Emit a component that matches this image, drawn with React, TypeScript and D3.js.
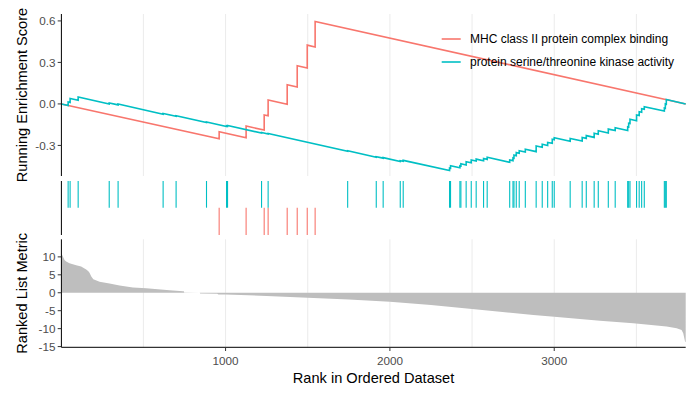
import React from "react";
import * as d3 from "d3";

const N = 3800;
const setNames = ["MHC class II protein complex binding", "protein serine/threonine kinase activity"];
const setColors = ["#F8766D", "#00BFC4"];

// [rank, running score before hit, running score after hit]
const mhcHits: [number, number, number][] = [
  [961, -0.252, -0.201],
  [1125, -0.245, -0.16],
  [1235, -0.189, -0.08],
  [1259, -0.086, 0.028],
  [1375, -0.003, 0.139],
  [1436, 0.123, 0.276],
  [1497, 0.26, 0.425],
  [1545, 0.412, 0.596],
];

const kinaseHits: [number, number, number][] = [
  [42, -0.011, 0.014],
  [54, 0.011, 0.04],
  [103, 0.027, 0.05],
  [292, 0.0, 0.007],
  [346, -0.007, -0.001],
  [620, -0.074, -0.069],
  [699, -0.09, -0.085],
  [884, -0.134, -0.13],
  [1006, -0.163, -0.159],
  [1012, -0.161, -0.156],
  [1219, -0.211, -0.207],
  [1259, -0.218, -0.214],
  [1743, -0.343, -0.339],
  [1917, -0.385, -0.381],
  [1959, -0.392, -0.388],
  [2063, -0.416, -0.41],
  [2081, -0.415, -0.408],
  [2363, -0.481, -0.463],
  [2369, -0.465, -0.447],
  [2426, -0.462, -0.447],
  [2432, -0.449, -0.432],
  [2464, -0.441, -0.418],
  [2495, -0.426, -0.405],
  [2525, -0.413, -0.399],
  [2570, -0.411, -0.395],
  [2592, -0.401, -0.386],
  [2729, -0.422, -0.405],
  [2749, -0.41, -0.39],
  [2755, -0.392, -0.37],
  [2769, -0.374, -0.352],
  [2787, -0.357, -0.338],
  [2824, -0.348, -0.328],
  [2890, -0.345, -0.304],
  [2927, -0.314, -0.292],
  [2960, -0.301, -0.278],
  [2988, -0.285, -0.256],
  [3000, -0.259, -0.244],
  [3097, -0.27, -0.249],
  [3170, -0.268, -0.242],
  [3195, -0.249, -0.229],
  [3243, -0.242, -0.212],
  [3268, -0.219, -0.194],
  [3329, -0.21, -0.182],
  [3371, -0.193, -0.172],
  [3447, -0.192, -0.165],
  [3453, -0.167, -0.14],
  [3461, -0.142, -0.111],
  [3501, -0.122, -0.08],
  [3517, -0.084, -0.056],
  [3532, -0.06, -0.035],
  [3548, -0.039, -0.02],
  [3670, -0.052, -0.03],
  [3676, -0.032, 0.0],
  [3682, -0.002, 0.032],
];

const metricRanks = [1, 5, 10, 20, 30, 50, 91, 121, 152, 165, 172, 183, 195, 203, 233, 294, 355, 436, 517, 588, 659, 741, 746, 748, 843, 845, 950, 956, 1000, 1250, 1500, 1750, 2000, 2250, 2500, 2670, 2873, 3000, 3278, 3481, 3684, 3745, 3775, 3785, 3796, 3800];
const metricValues = [11.0, 10.6, 10.1, 9.1, 8.7, 8.2, 7.7, 7.3, 6.5, 6.0, 5.6, 4.5, 3.8, 3.6, 3.1, 2.6, 2.0, 1.5, 1.25, 0.97, 0.7, 0.42, 0.4, 0.04, 0.03, -0.2, -0.28, -0.45, -0.5, -0.9, -1.4, -1.9, -2.5, -3.4, -4.5, -5.27, -6.2, -6.66, -7.8, -8.5, -9.4, -9.9, -10.4, -11.3, -13.6, -13.8];

const xTicks = [1000, 2000, 3000];
const xGrid = [500, 1000, 1500, 2000, 2500, 3000, 3500];
const esTicks = [-0.3, 0, 0.3, 0.6];
const metricTicks = [-15, -10, -5, 0, 5, 10];

const FONT = "'Liberation Sans', Arial, Helvetica, sans-serif";

export default function App() {
  const left = 61.4;
  const right = 685.7;
  const top1 = 14, bot1 = 176;
  const rugTop = 181, rugMid = 207.7, rugBot = 235;
  const top3 = 239.3, bot3 = 347.3;

  const x = d3.scaleLinear().domain([1, N]).range([left, right]);
  const yES = d3.scaleLinear().domain([-0.521, 0.65]).range([bot1, top1]);
  const yM = d3.scaleLinear().domain([-15.2, 14.9]).range([bot3, top3]);

  const esPoints = (hits: [number, number, number][]) => {
    const pts: [number, number][] = [[1, 0]];
    hits.forEach(([r, b, a]) => {
      pts.push([r, b]);
      pts.push([r, a]);
    });
    pts.push([N, 0]);
    return pts;
  };
  const line = d3
    .line<[number, number]>()
    .x((d) => x(d[0]))
    .y((d) => yES(d[1]));

  const metricData = metricRanks.map((r, i) => [r, metricValues[i]] as [number, number]);
  const area = d3
    .area<[number, number]>()
    .x((d) => x(d[0]))
    .y0(yM(0))
    .y1((d) => yM(d[1]));

  const sets = [
    { name: setNames[0], color: setColors[0], hits: mhcHits },
    { name: setNames[1], color: setColors[1], hits: kinaseHits },
  ];

  const tickColor = "#4D4D4D";
  const gridColor = "#EBEBEB";

  return (
    <svg
      width={700}
      height={400}
      style={{ position: "absolute", left: 0, top: 0, background: "#fff" }}
      fontFamily={FONT}
    >
      <rect x={0} y={0} width={700} height={400} fill="#fff" />
      {/* grids */}
      {xGrid.map((g) => (
        <g key={"g" + g}>
          <line x1={x(g)} x2={x(g)} y1={top1} y2={bot1} stroke={gridColor} strokeWidth={1} />
          <line x1={x(g)} x2={x(g)} y1={top3} y2={bot3} stroke={gridColor} strokeWidth={1} />
        </g>
      ))}

      {/* ES lines */}
      {sets.map((s) => (
        <path key={s.name} d={line(esPoints(s.hits)) || ""} fill="none" stroke={s.color} strokeWidth={1.6} strokeLinejoin="miter" />
      ))}

      {/* legend */}
      {sets.map((s, i) => (
        <g key={"leg" + i}>
          <line x1={441.7} x2={460.7} y1={39 + i * 23} y2={39 + i * 23} stroke={s.color} strokeWidth={1.6} />
          <text x={470} y={39 + i * 23} dy="0.35em" fontSize={12} fill="#000">
            {s.name}
          </text>
        </g>
      ))}

      {/* ES axis */}
      <line x1={left} x2={left} y1={top1} y2={bot1} stroke="#000" strokeWidth={1} />
      {esTicks.map((t) => (
        <g key={"es" + t}>
          <line x1={left - 3.7} x2={left} y1={yES(t)} y2={yES(t)} stroke="#333" strokeWidth={1} />
          <text x={left - 6} y={yES(t)} dy="0.35em" textAnchor="end" fontSize={11.7} fill={tickColor}>
            {t.toFixed(1)}
          </text>
        </g>
      ))}
      <text
        transform={`translate(27.3, ${(top1 + bot1) / 2}) rotate(-90)`}
        textAnchor="middle"
        fontSize={14.6}
        fill="#000"
      >
        Running Enrichment Score
      </text>

      {/* rug */}
      <line x1={left} x2={left} y1={rugTop} y2={rugBot} stroke="#000" strokeWidth={1} />
      {sets.map((s, i) =>
        s.hits.map(([r]) => (
          <line
            key={s.name + r}
            x1={x(r)}
            x2={x(r)}
            y1={i === 1 ? rugTop : rugMid}
            y2={i === 1 ? rugMid : rugBot}
            stroke={s.color}
            strokeWidth={1.1}
          />
        ))
      )}

      {/* ranked metric */}
      <path d={area(metricData) || ""} fill="#BEBEBE" stroke="none" />
      <line x1={left} x2={left} y1={top3} y2={bot3} stroke="#000" strokeWidth={1} />
      <line x1={left} x2={right} y1={bot3} y2={bot3} stroke="#000" strokeWidth={1} />
      {metricTicks.map((t) => (
        <g key={"m" + t}>
          <line x1={left - 3.7} x2={left} y1={yM(t)} y2={yM(t)} stroke="#333" strokeWidth={1} />
          <text x={left - 6} y={yM(t)} dy="0.35em" textAnchor="end" fontSize={11.7} fill={tickColor}>
            {t}
          </text>
        </g>
      ))}
      {xTicks.map((t) => (
        <g key={"x" + t}>
          <line x1={x(t)} x2={x(t)} y1={bot3} y2={bot3 + 3.7} stroke="#333" strokeWidth={1} />
          <text x={x(t)} y={365} textAnchor="middle" fontSize={11.7} fill={tickColor}>
            {t}
          </text>
        </g>
      ))}
      <text
        transform={`translate(27.3, ${(top3 + bot3) / 2}) rotate(-90)`}
        textAnchor="middle"
        fontSize={14.6}
        fill="#000"
      >
        Ranked List Metric
      </text>
      <text x={(left + right) / 2} y={382.7} textAnchor="middle" fontSize={14.6} fill="#000">
        Rank in Ordered Dataset
      </text>
    </svg>
  );
}
